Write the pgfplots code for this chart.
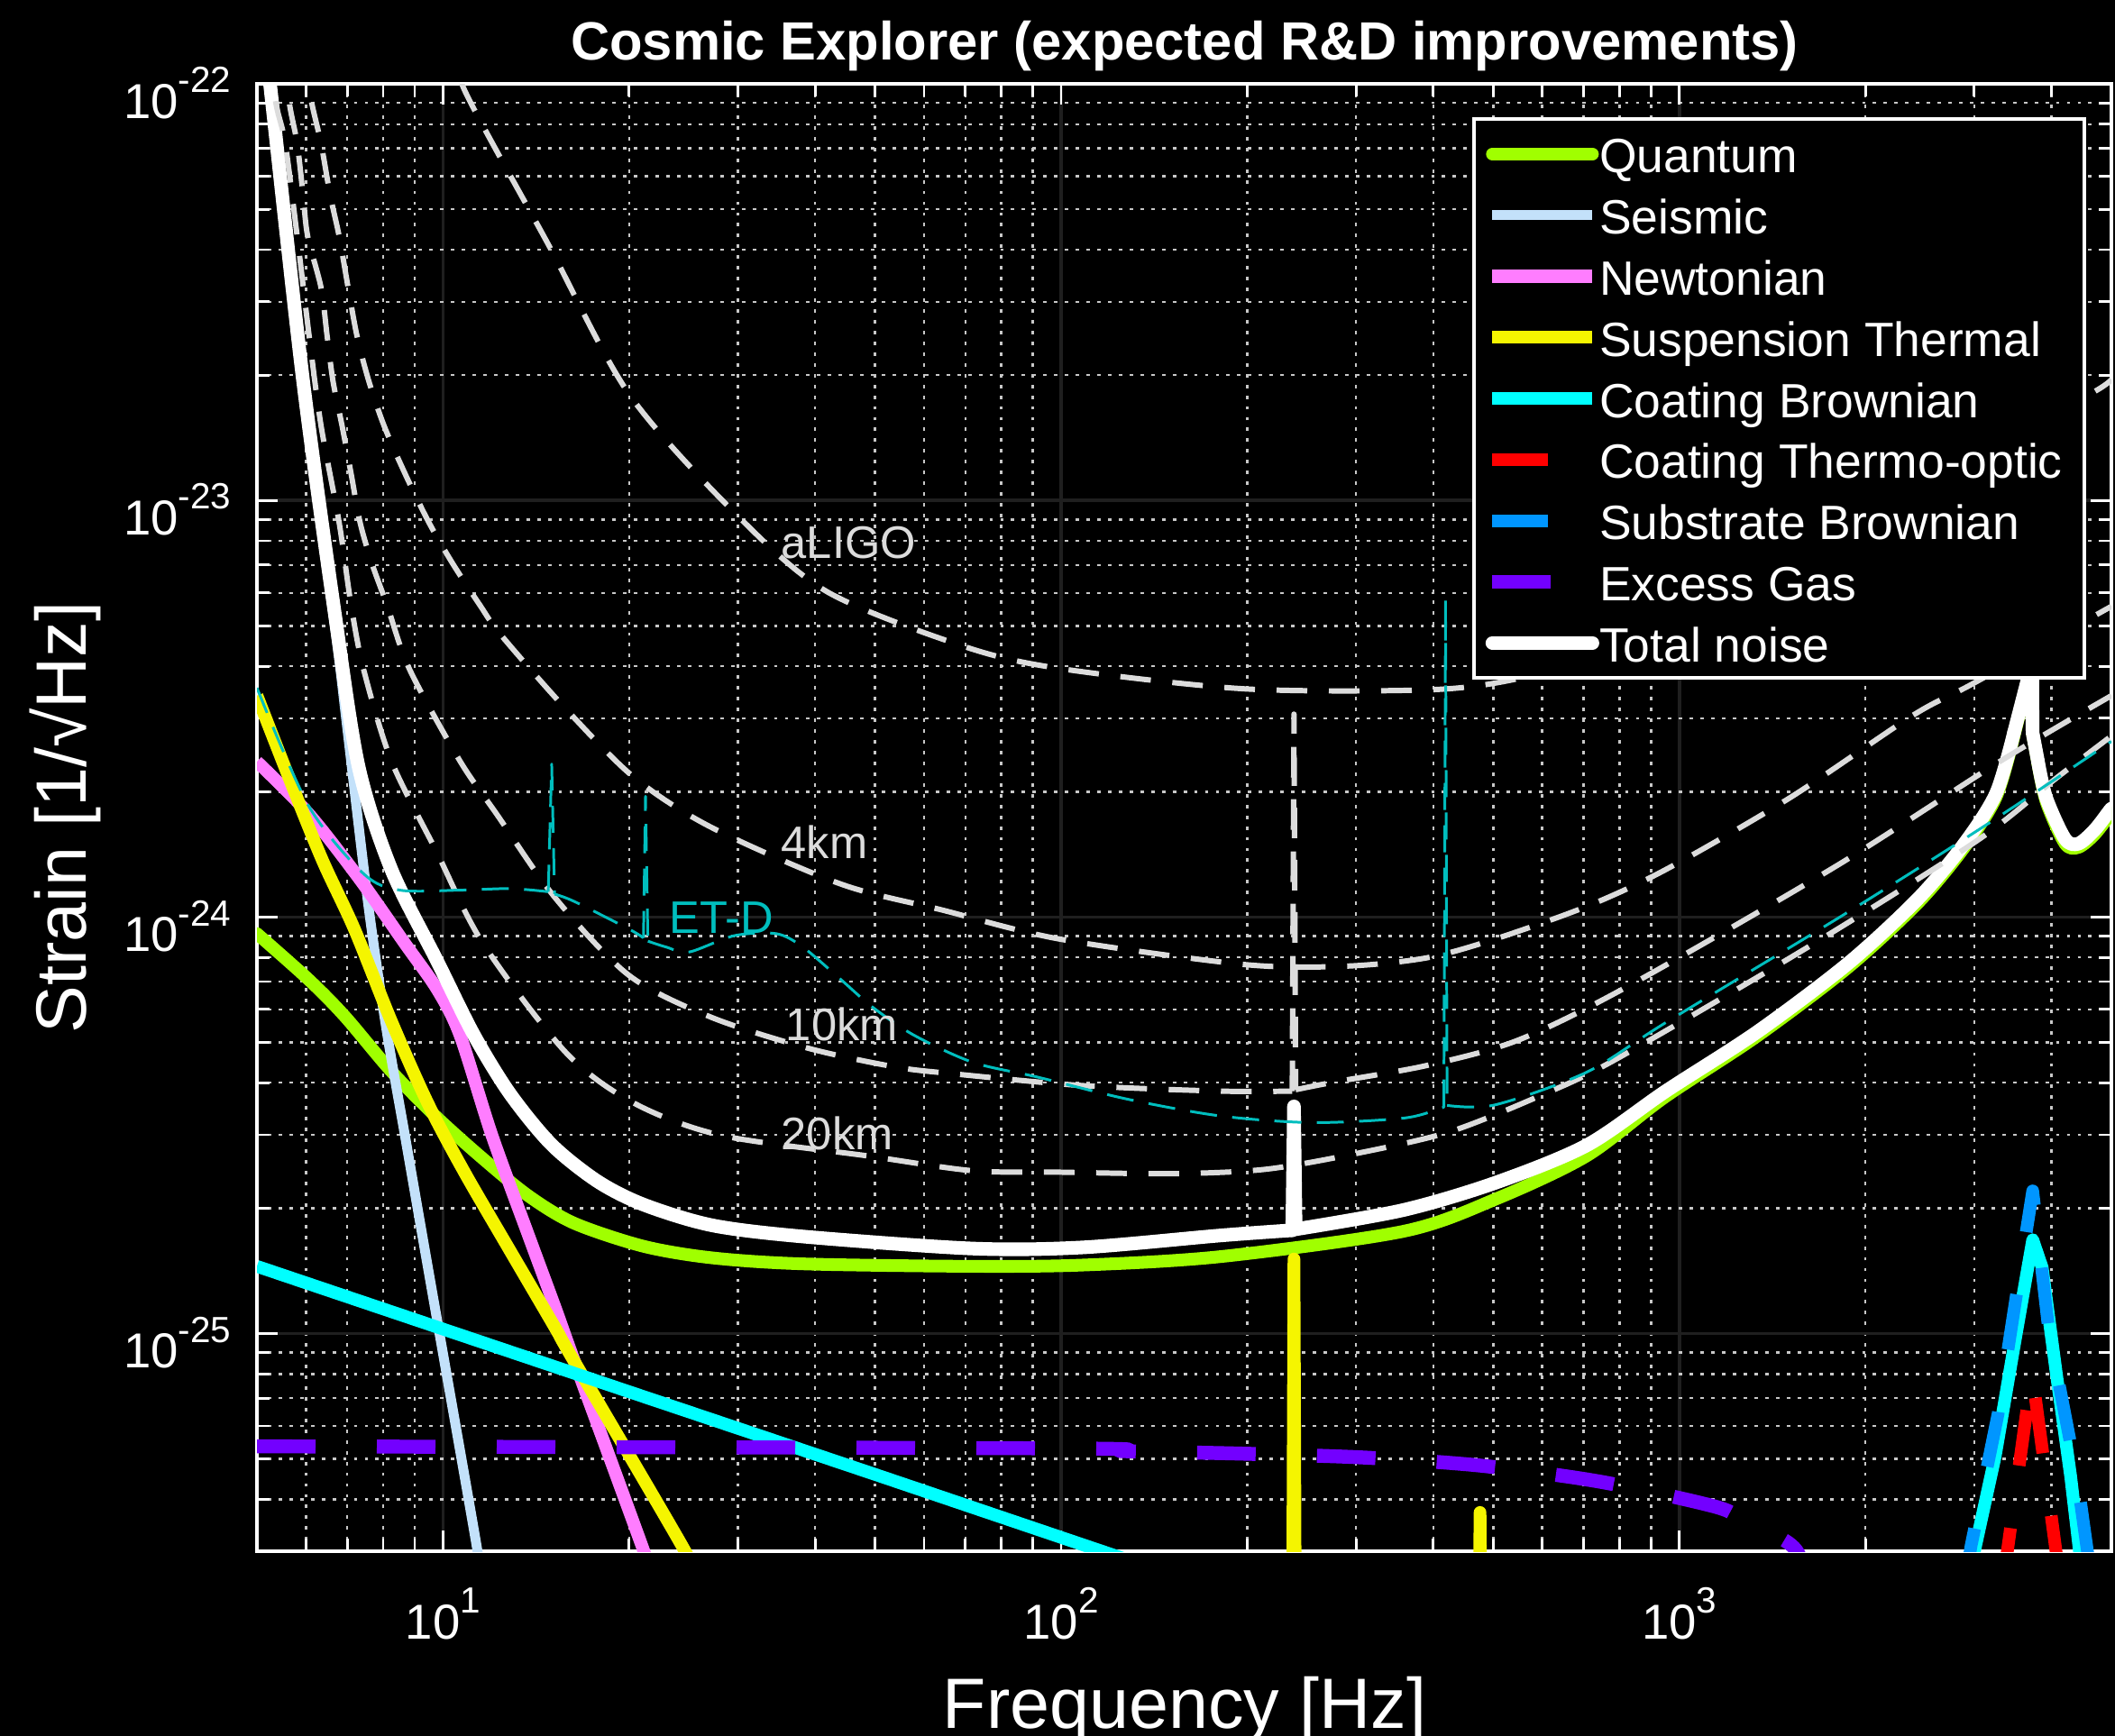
\documentclass[border=0pt]{standalone}
\usepackage{fontspec}
\setmainfont{Liberation Sans}
\usepackage{pgfplots}
\pgfplotsset{compat=1.18}

\definecolor{quantumc}{RGB}{160,255,0}
\definecolor{seismicc}{RGB}{195,225,250}
\definecolor{newtc}{RGB}{255,125,255}
\definecolor{suspc}{RGB}{245,245,0}
\definecolor{coatbc}{RGB}{0,255,255}
\definecolor{coattoc}{RGB}{255,0,0}
\definecolor{subbc}{RGB}{0,150,255}
\definecolor{gasc}{RGB}{115,0,255}
\definecolor{refc}{RGB}{220,220,220}
\definecolor{etdc}{RGB}{0,190,190}
\definecolor{gridc}{RGB}{200,200,200}

\newcommand{\tickfont}{\fontsize{15.5}{18}\selectfont}
\newcommand{\legfont}{\fontsize{15.2}{18}\selectfont}
\newcommand{\labfont}{\fontsize{22.5}{27}\selectfont}
\newcommand{\titfont}{\fontsize{17}{20}\selectfont\bfseries}
\newcommand{\curvefont}{\fontsize{14.4}{17}\selectfont}
\newcommand{\legentry}[1]{\makebox[5.25cm][l]{#1}}
% power-of-ten tick label: 10 with a raised exponent
\newcommand{\pten}[1]{10\raisebox{0.52em}{\fontsize{11.5}{12}\selectfont #1}}

\pgfplotsset{
  quantum/.style={color=quantumc, line width=4pt, line cap=round},
  total/.style={color=white, line width=4.3pt, line cap=round},
  refdash/.style={color=refc, line width=1.7pt, dash pattern=on 0.34cm off 0.24cm},
  etdash/.style={color=etdc, line width=0.85pt, dash pattern=on 0.3cm off 0.17cm},
  smoothed/.style={smooth, tension=0.5},
}

\begin{document}
\begin{tikzpicture}
\fill[black] (-2.85,-2.05) rectangle (20.61,17.21);
\begin{axis}[
  at={(0,0)}, anchor=south west, scale only axis,
  width=20.57cm, height=16.28cm,
  xmode=log, ymode=log,
  xmin=5, xmax=5000, ymin=3e-26, ymax=1e-22,
  axis line style={white, line width=1.1pt},
  tick style={white, line width=0.8pt},
  tick align=inside, xtick pos=both, ytick pos=both,
  major tick length=0.23cm, minor tick length=0.14cm,
  xtick={10,100,1000},
  xticklabels={\pten{1},\pten{2},\pten{3}},
  ytick={1e-25,1e-24,1e-23,1e-22},
  yticklabels={\pten{-25},\pten{-24},\pten{-23},\pten{-22}},
  minor xtick={6,7,8,9,20,30,40,50,60,70,80,90,200,300,400,500,600,700,800,900,2000,3000,4000},
  minor ytick={4e-26,5e-26,6e-26,7e-26,8e-26,9e-26,2e-25,3e-25,4e-25,5e-25,6e-25,7e-25,8e-25,9e-25,2e-24,3e-24,4e-24,5e-24,6e-24,7e-24,8e-24,9e-24,2e-23,3e-23,4e-23,5e-23,6e-23,7e-23,8e-23,9e-23},
  grid=both,
  major grid style={draw=white!12!black, line width=1pt},
  minor grid style={draw=gridc, line width=0.7pt, dash pattern=on 1.1pt off 2.3pt},
  xticklabel style={font=\tickfont, text=white, anchor=base, yshift=-0.97cm, inner sep=0pt},
  yticklabel style={font=\tickfont, text=white, anchor=east, xshift=-0.28cm, yshift=-0.1cm, inner sep=0pt},
  legend cell align=left,
  legend style={
    at={(rel axis cs:0.9864,0.9773)}, anchor=north east,
    fill=black, draw=white, line width=1.1pt, text=white,
    font=\legfont, inner xsep=0.13cm, inner ysep=0.05cm,
    row sep=0pt, column sep=0pt,
    nodes={inner sep=0pt, text height=0.549cm, text depth=0.129cm},
  },
  legend image code/.code={
    \draw[#1, line cap=butt] (0cm,0cm) -- (1.01cm,0cm);
    \path (0cm,0cm) -- (1.11cm,0cm);
  },
  every axis plot/.append style={line join=round},
]

% ---- noise budget ----
\addplot[quantum, smoothed] coordinates {
(5,9.12e-25) (6.06,7.08e-25) (6.94,5.77e-25) (8.25,4.26e-25) (9.78,3.30e-25)
(11.6,2.63e-25) (13.75,2.14e-25) (16.3,1.84e-25) (21.1,1.62e-25) (27.2,1.52e-25)
(38.2,1.47e-25) (71.9,1.45e-25) (108,1.46e-25) (181,1.53e-25) (358,1.76e-25)
(503.5,2.10e-25) (708,2.67e-25) (946,3.69e-25) (1337,5.18e-25) (1879,7.59e-25)
(2438,1.085e-24) (2891,1.47e-24) (3254,1.94e-24) (3479,2.72e-24)
};
\addlegendentry{\legentry{Quantum}}
\addplot[quantum, forget plot] coordinates {
(3479,2.72e-24) (3665,3.70e-24) (3715,7.8e-24) (3728,2.75e-24) (3802,2.34e-24)
};
\addplot[quantum, smoothed, forget plot] coordinates {
(3802,2.34e-24) (3923,1.89e-24) (4207,1.50e-24) (4423,1.47e-24) (4700,1.58e-24) (5000,1.78e-24)
};

\addplot[color=seismicc, line width=3.1pt, smoothed] coordinates {
(5,1.86e-22) (5.25,9.77e-23) (5.94,1.86e-23) (6.71,4.79e-24) (7.0,2.84e-24)
(7.57,1.07e-24) (8.10,5.37e-25) (8.67,3.01e-25) (9.29,1.67e-25) (9.78,1.08e-25)
(10.12,8.09e-26) (11.33,3.10e-26) (11.7,2.24e-26)
};
\addlegendentry{\legentry{Seismic}}

\addplot[color=newtc, line width=4pt, smoothed] coordinates {
(5,2.36e-24) (6.06,1.77e-24) (7.31,1.24e-24) (8.67,8.65e-25) (9.78,6.71e-25)
(10.65,5.21e-25) (12.0,2.99e-25) (13.75,1.72e-25) (15.2,1.15e-25) (16.3,8.61e-26)
(21.0,3.08e-26) (22.0,2.51e-26)
};
\addlegendentry{\legentry{Newtonian}}

\addplot[color=suspc, line width=4pt, smoothed] coordinates {
(5,3.40e-24) (5.67,2.11e-24) (6.38,1.37e-24) (7.19,9.35e-25) (8.25,5.62e-25)
(9.46,3.56e-25) (10.83,2.44e-25) (12.84,1.58e-25) (15.2,1.03e-25) (16.2,8.71e-26)
(24.4,3.08e-26) (26,2.51e-26)
};
\addlegendentry{\legentry{Suspension Thermal}}
\addplot[color=suspc, line width=4pt, line cap=round, forget plot] coordinates {
(236.8,2e-26) (238,1.51e-25) (239.2,2e-26)
};
\addplot[color=suspc, line width=4pt, line cap=round, forget plot] coordinates {
(474.5,2e-26) (476,3.72e-26) (477.5,2e-26)
};

\addplot[color=coatbc, line width=4pt] coordinates {
(5,1.45e-25) (10,1.025e-25) (20,7.25e-26) (50,4.59e-26) (100,3.24e-26) (130,2.84e-26)
};
\addlegendentry{\legentry{Coating Brownian}}
\addplot[color=coatbc, line width=4pt, forget plot] coordinates {
(2994,2.95e-26) (3243,5.07e-26) (3496,9.70e-26) (3730,1.68e-25) (3864,1.44e-25)
(4071,8.05e-26) (4296,4.54e-26) (4445,2.95e-26)
};

\addplot[color=coattoc, line width=4pt, dash pattern=on 0.62cm off 0.7cm] coordinates {
(3350,2.51e-26) (3388,2.95e-26) (3720,8.05e-26) (4074,2.95e-26) (4120,2.51e-26)
};
\addlegendentry{\legentry{Coating Thermo-optic}}

\addplot[color=subbc, line width=4pt, dash pattern=on 0.62cm off 0.7cm] coordinates {
(2900,2.51e-26) (2963,3.08e-26) (3278,6.41e-26) (3581,1.50e-25) (3730,2.20e-25)
(3963,1.01e-25) (4397,4.54e-26) (4600,2.82e-26)
};
\addlegendentry{\legentry{Substrate Brownian}}

\addplot[color=gasc, line width=4.4pt, dash pattern=on 0.65cm off 0.68cm, smoothed] coordinates {
(5,5.36e-26) (100,5.30e-26) (126.5,5.22e-26) (195,5.15e-26) (308,5.04e-26)
(476,4.82e-26) (744,4.41e-26) (1151,3.83e-26) (1275,3.52e-26) (1545,3.02e-26)
(1700,2.0e-26)
};
\addlegendentry{\legentry{Excess Gas}}

\addplot[total, smoothed] coordinates {
(5,1.91e-22) (5.25,1.0e-22) (5.94,1.93e-23) (6.71,5.13e-24) (7.31,2.28e-24)
(8.25,1.30e-24) (9.78,7.85e-25) (11.22,5.21e-25) (12.84,3.76e-25) (14.99,2.84e-25)
(17.78,2.32e-25) (21.1,2.04e-25) (27.2,1.82e-25) (38.2,1.71e-25) (71.9,1.60e-25)
(108.3,1.61e-25) (181,1.72e-25) (236.5,1.77e-25)
};
\addlegendentry{\legentry{Total noise}}
\addplot[total, forget plot] coordinates {
(236.5,1.77e-25) (238,3.51e-25) (239.5,1.78e-25)
};
\addplot[total, smoothed, forget plot] coordinates {
(239.5,1.78e-25) (358,1.98e-25) (503.5,2.30e-25) (708,2.83e-25) (951,3.82e-25)
(1337,5.30e-25) (1879,7.76e-25) (2438,1.11e-24) (2891,1.50e-24) (3254,1.98e-24)
(3479,2.77e-24)
};
\addplot[total, forget plot] coordinates {
(3479,2.77e-24) (3665,3.74e-24) (3715,7.9e-24) (3728,2.77e-24) (3802,2.37e-24)
};
\addplot[total, smoothed, forget plot] coordinates {
(3802,2.37e-24) (3923,1.93e-24) (4207,1.54e-24) (4423,1.50e-24) (4700,1.62e-24)
(4966,1.80e-24) (5000,1.82e-24)
};

% ---- reference detectors ----
% aLIGO
\addplot[refdash, smoothed, forget plot] coordinates {
(10.1,1.32e-22) (10.93,9.40e-23) (14.8,4.12e-23) (20.0,1.80e-23) (29.7,9.31e-24)
(41.8,6.04e-24) (69.7,4.46e-24) (99.5,3.95e-24) (198,3.53e-24) (390,3.51e-24)
(532,3.70e-24) (700,4.17e-24) (1000,5.25e-24) (1500,7.41e-24) (2000,9.55e-24)
(3000,1.32e-23) (4580,1.79e-23) (5000,1.95e-23)
};
% 4 km
\addplot[refdash, smoothed, forget plot] coordinates {
(5.9,1.20e-22) (6.145,8.87e-23) (6.35,7.19e-23) (6.568,5.41e-23) (6.792,4.31e-23)
(7.024,3.24e-23) (7.26,2.48e-23) (7.59,1.93e-23) (8.03,1.51e-23) (8.68,1.16e-23)
(9.49,8.85e-24) (10.37,7.05e-24) (11.47,5.61e-24) (12.4,4.76e-24) (15.8,3.16e-24)
(20.4,2.16e-24) (27.2,1.64e-24) (44.0,1.20e-24) (64.1,1.04e-24) (99.5,8.85e-25)
(198,7.69e-25) (288,7.62e-25) (390,7.98e-25) (503,8.85e-25) (708,1.06e-24)
(951,1.30e-24) (1507,1.93e-24) (2388,3.05e-24) (2992,3.64e-24) (5000,5.57e-24)
};
% 10 km
\addplot[refdash, smoothed, forget plot] coordinates {
(5.5,1.19e-22) (5.65,8.87e-23) (5.809,7.19e-23) (5.938,5.41e-23) (6.04,4.31e-23)
(6.35,3.24e-23) (6.495,2.48e-23) (6.64,1.93e-23) (6.867,1.51e-23) (7.101,1.16e-23)
(7.343,8.85e-24) (7.677,7.05e-24) (8.117,5.61e-24) (8.83,3.93e-24) (10.65,2.37e-24)
(12.2,1.77e-24) (15.2,1.11e-24) (20.0,7.24e-25) (27.2,5.74e-25) (39.0,4.84e-25)
(53.7,4.37e-25) (66.2,4.21e-25) (108,3.94e-25) (180.5,3.82e-25) (236.5,3.82e-25)
};
\addplot[refdash, forget plot] coordinates {
(236.5,3.82e-25) (238,3.07e-24) (239.5,3.85e-25)
};
\addplot[refdash, smoothed, forget plot] coordinates {
(239.5,3.85e-25) (277.6,4.02e-25) (390,4.40e-25) (548,5.06e-25)
(826,6.82e-25) (1786,1.32e-24) (3311,2.37e-24) (5000,3.40e-24)
};
% 20 km
\addplot[refdash, smoothed, forget plot] coordinates {
(5.2,1.21e-22) (5.376,8.87e-23) (5.557,7.19e-23) (5.809,4.31e-23) (6.074,2.48e-23)
(6.35,1.51e-23) (6.792,8.85e-24) (7.101,5.61e-24) (7.44,3.93e-24) (8.25,2.37e-24)
(9.75,1.44e-24) (11.6,8.65e-25) (15.8,4.73e-25) (20.4,3.57e-25) (28.2,2.99e-25)
(48.6,2.67e-25) (71.9,2.46e-25) (99.5,2.44e-25) (152.5,2.42e-25) (214.5,2.48e-25)
(302,2.71e-25) (425,3.05e-25) (597,3.73e-25) (791,4.56e-25) (1641,8.59e-25)
(3041,1.53e-24) (4064,2.15e-24) (5000,2.72e-24)
};
% ET-D
\addplot[etdash, smoothed, forget plot] coordinates {
(5,3.55e-24) (6.06,1.85e-24) (7.44,1.27e-24) (8.52,1.16e-24) (10.65,1.16e-24)
(12.84,1.17e-24) (14.8,1.15e-24)
};
\addplot[etdash, forget plot] coordinates {
(14.8,1.15e-24) (14.99,2.33e-24) (15.15,1.135e-24)
};
\addplot[etdash, smoothed, forget plot] coordinates {
(15.15,1.135e-24) (16.3,1.09e-24) (20.0,9.35e-25) (21.1,8.91e-25)
};
\addplot[etdash, forget plot] coordinates {
(21.1,8.91e-25) (21.26,1.95e-24) (21.45,8.75e-25)
};
\addplot[etdash, smoothed, forget plot] coordinates {
(21.45,8.75e-25) (22.96,8.47e-25) (25.0,8.24e-25) (29.6,9.02e-25) (34.6,9.12e-25)
(38.2,8.47e-25) (44.0,7.08e-25) (49.5,6.08e-25) (57.7,5.21e-25) (71.9,4.48e-25)
(91.4,4.13e-25) (128.4,3.65e-25) (181,3.33e-25) (254.5,3.21e-25) (358,3.29e-25)
(410,3.47e-25) (416,3.51e-25)
};
\addplot[etdash, forget plot] coordinates {
(416,3.51e-25) (418.6,5.79e-24) (421,3.53e-25)
};
\addplot[etdash, smoothed, forget plot] coordinates {
(421,3.53e-25) (503.5,3.54e-25) (708,4.24e-25) (951,5.58e-25)
(1879,1.03e-24) (3148,1.67e-24) (5000,2.64e-24)
};

\node[anchor=base west, inner sep=0pt, text=refc, font=\curvefont] at (axis cs:35.2,7.26e-24) {aLIGO};
\node[anchor=base west, inner sep=0pt, text=refc, font=\curvefont] at (axis cs:35.2,1.38e-24) {4km};
\node[anchor=base west, inner sep=0pt, text=refc, font=\curvefont] at (axis cs:35.8,5.05e-25) {10km};
\node[anchor=base west, inner sep=0pt, text=refc, font=\curvefont] at (axis cs:35.2,2.77e-25) {20km};
\node[anchor=base west, inner sep=0pt, text=etdc, font=\curvefont] at (axis cs:23.2,9.12e-25) {ET-D};
\end{axis}
\node[anchor=base, text=white, font=\titfont] at (10.29,16.54) {Cosmic Explorer (expected R\&D improvements)};
\node[anchor=base, text=white, font=\labfont] at (10.29,-1.97) {Frequency [Hz]};
\node[anchor=base, rotate=90, text=white, font=\labfont] at (-1.89,8.14) {Strain [1/√Hz]};
\pgfresetboundingbox
\useasboundingbox (-2.85,-2.05) rectangle (20.61,17.21);
\end{tikzpicture}
\end{document}
